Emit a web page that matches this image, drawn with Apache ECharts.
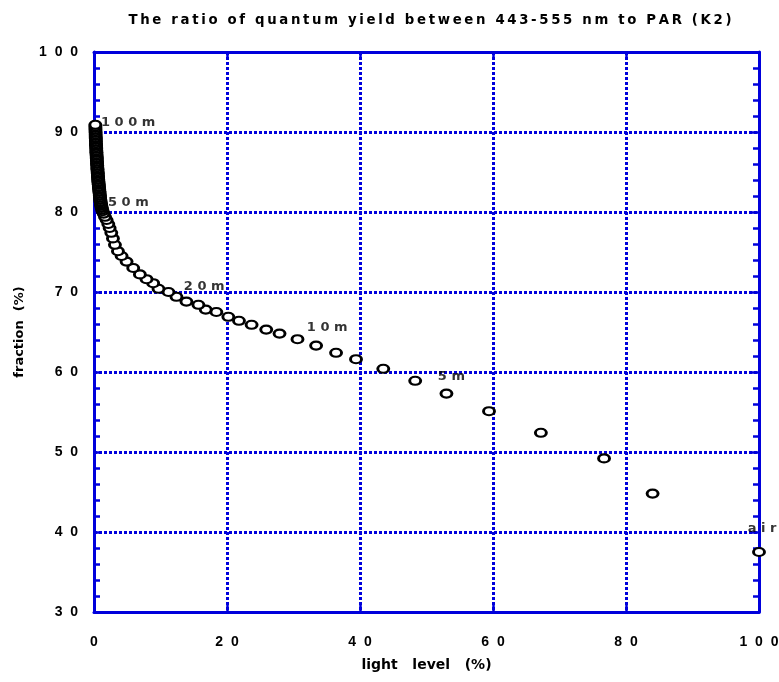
<!DOCTYPE html>
<html>
<head>
<meta charset="utf-8">
<script src="https://cdn.jsdelivr.net/npm/echarts@6/dist/echarts.min.js"></script>
<style>
  html, body { margin: 0; padding: 0; background: #ffffff; }
  #chart { width: 779px; height: 682px; }
</style>
</head>
<body>
<div id="chart"></div>
<script>
// Light level (% of surface PAR) for each sample: air first, then down the profile
const lightLevel = [
  100.0, 84.0, 76.7, 67.2,
  59.4, 53.0, 48.3, 43.5, 39.4, 36.4, 33.4, 30.6, 27.9, 25.9,
  23.7, 21.8, 20.2, 18.4, 16.8, 15.7, 13.9, 12.4, 11.2, 9.70,
  8.90, 7.90, 6.90, 5.90, 4.90, 4.15, 3.60, 3.15, 2.85, 2.60,
  2.35, 2.15, 1.90, 1.65, 1.45, 1.30, 1.22, 1.17, 1.13, 1.10,
  1.07, 1.04, 1.01, 0.98, 0.96, 0.93, 0.91, 0.89, 0.87, 0.85,
  0.83, 0.81, 0.79, 0.77, 0.75, 0.73, 0.71, 0.70, 0.68, 0.66,
  0.65, 0.63, 0.62, 0.60, 0.59, 0.57, 0.56, 0.54, 0.53, 0.51,
  0.50, 0.49, 0.47, 0.46, 0.45, 0.43, 0.42, 0.41, 0.40, 0.38,
  0.37, 0.36, 0.35, 0.34, 0.33, 0.32, 0.31, 0.30, 0.29, 0.28,
  0.27, 0.26, 0.25, 0.25, 0.24, 0.23, 0.22, 0.22, 0.21, 0.20
];

// Ratio of 443-555 nm quantum yield to PAR (%) for the same samples
const fraction = [
  37.5, 44.8, 49.2, 52.4,
  55.1, 57.3, 58.9, 60.4, 61.6, 62.4, 63.3, 64.1, 64.8, 65.3,
  65.9, 66.4, 66.9, 67.5, 67.8, 68.4, 68.8, 69.4, 70.0, 70.4,
  71.1, 71.6, 72.2, 73.0, 73.8, 74.5, 75.1, 75.9, 76.7, 77.4,
  78.0, 78.5, 79.0, 79.4, 79.8, 80.1, 80.3, 80.5, 80.6, 80.8,
  80.9, 81.0, 81.2, 81.3, 81.5, 81.6, 81.8, 82.0, 82.1, 82.3,
  82.5, 82.6, 82.8, 82.9, 83.1, 83.2, 83.4, 83.5, 83.7, 83.8,
  84.0, 84.1, 84.3, 84.4, 84.6, 84.8, 84.9, 85.1, 85.3, 85.4,
  85.6, 85.8, 86.0, 86.1, 86.3, 86.5, 86.7, 86.8, 87.0, 87.2,
  87.4, 87.5, 87.7, 87.9, 88.1, 88.3, 88.4, 88.6, 88.8, 89.0,
  89.2, 89.3, 89.5, 89.7, 89.9, 90.1, 90.3, 90.5, 90.7, 90.9
];

// Depth annotations: text and the point where each label starts
const depthLabels = ['100m', '50m', '20m', '10m', '5m', 'air'];
const depthLabelX = [1.05, 2.1, 13.5, 32.0, 51.7, 98.3];
const depthLabelY = [91.2, 81.2, 70.7, 65.5, 59.4, 40.4];

// Axis ranges and tick steps
const xRange = [0, 100], xStep = 20;
const yRange = [30, 100], yStep = 10;

const titleText = 'The ratio of quantum yield between 443-555 nm to PAR (K2)';
const xName = 'light level (%)';
const yName = 'fraction (%)';

const BLUE = '#0000dc';
const FONT = '"DejaVu Sans", Verdana, sans-serif';
const TICK_FONT = '"Liberation Sans", Arial, Helvetica, sans-serif';
const THIN = '\u2009';

// Spread text out by putting a gap string between every character
function spaced(str, gap) {
  return str.split('').join(gap);
}
const tickText = v => spaced(String(v), '  ');

const ellipse = 'path://M0,50A50,50 0 1,1 100,50A50,50 0 1,1 0,50Z';

function textStyle(extra) {
  return Object.assign({ color: '#000', fontWeight: 'bold', fontSize: 13, fontFamily: FONT }, extra || {});
}
function axisLine() { return { show: true, onZero: false, lineStyle: { color: BLUE, width: 3 } }; }
function axisTick() { return { show: true, inside: true, length: 7, lineStyle: { color: BLUE, width: 2.5 } }; }
function minorTick() { return { show: true, splitNumber: 5, length: 6, lineStyle: { color: BLUE, width: 2.5 } }; }
function gridLine() { return { show: true, lineStyle: { color: BLUE, width: 3, type: [3, 2] } }; }

const chart = echarts.init(document.getElementById('chart'), null, { renderer: 'canvas' });

chart.setOption({
  animation: false,
  backgroundColor: '#ffffff',
  title: {
    text: spaced(titleText, THIN),
    left: 425,
    top: 9,
    textAlign: 'center',
    textStyle: textStyle({ fontSize: 13.3 })
  },
  grid: { left: 94, right: 20, top: 52, bottom: 70, containLabel: false, outerBoundsMode: 'none' },
  xAxis: [
    {
      type: 'value', position: 'bottom', gridIndex: 0,
      min: xRange[0], max: xRange[1], interval: xStep,
      axisLine: axisLine(), axisTick: axisTick(),
      axisLabel: textStyle({ formatter: tickText, margin: 23, fontSize: 14, fontFamily: TICK_FONT }),
      splitLine: gridLine(),
      name: xName.replace(/ /g, '   '),
      nameLocation: 'middle', nameGap: 46, nameTextStyle: textStyle({ fontSize: 14 })
    },
    {
      type: 'value', position: 'top', gridIndex: 0,
      min: xRange[0], max: xRange[1], interval: xStep,
      axisLine: axisLine(), axisTick: axisTick(),
      axisLabel: { show: false },
      splitLine: { show: false }
    }
  ],
  yAxis: [
    {
      type: 'value', position: 'left', gridIndex: 0,
      min: yRange[0], max: yRange[1], interval: yStep,
      axisLine: axisLine(), axisTick: axisTick(), minorTick: minorTick(),
      axisLabel: textStyle({ formatter: tickText, margin: 16, fontSize: 14, fontFamily: TICK_FONT }),
      splitLine: gridLine(),
      name: yName.replace(/ /g, '  '),
      nameLocation: 'middle', nameGap: 68, nameRotate: 90, nameTextStyle: textStyle()
    },
    {
      type: 'value', position: 'right', gridIndex: 0,
      min: yRange[0], max: yRange[1], interval: yStep,
      axisLine: axisLine(), axisTick: axisTick(), minorTick: minorTick(),
      axisLabel: { show: false },
      splitLine: { show: false }
    }
  ],
  series: [
    {
      type: 'scatter',
      xAxisIndex: 0, yAxisIndex: 0,
      data: lightLevel.map((x, i) => [x, fraction[i]]),
      symbol: ellipse,
      symbolSize: [11, 8],
      clip: false,
      itemStyle: { color: '#ffffff', borderColor: '#000000', borderWidth: 2.5, opacity: 1 },
      emphasis: { disabled: true },
      z: 5
    },
    {
      type: 'scatter',
      xAxisIndex: 0, yAxisIndex: 0,
      data: depthLabels.map((t, i) => ({ value: [depthLabelX[i], depthLabelY[i]], name: t })),
      symbolSize: 0.1,
      clip: false,
      itemStyle: { color: 'transparent' },
      label: textStyle({
        show: true, position: 'right', distance: 0,
        formatter: p => spaced(p.name, ' ')
      }),
      emphasis: { disabled: true },
      silent: true,
      z: 6
    }
  ]
});
</script>
</body>
</html>
